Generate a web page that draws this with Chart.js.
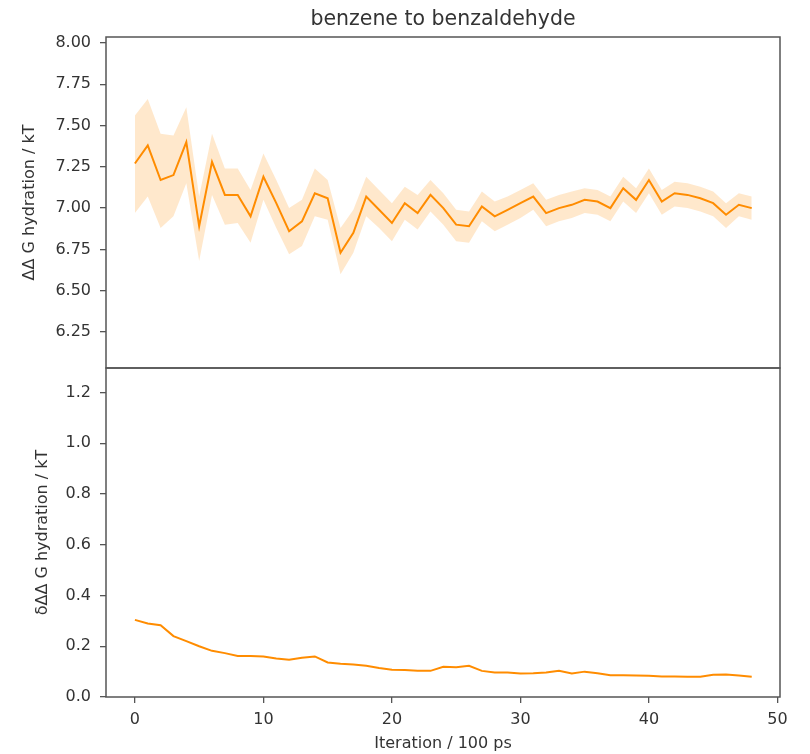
<!DOCTYPE html>
<html>
<head>
<meta charset="utf-8">
<script src="https://cdn.jsdelivr.net/npm/chart.js@4/dist/chart.umd.min.js"></script>
<style>
  html, body { margin: 0; padding: 0; background: #ffffff; }
  #wrap { position: relative; width: 810px; height: 754px; }
  #wrap canvas { position: absolute; left: 0; top: 0; }
</style>
</head>
<body>
<div id="wrap">
  <canvas id="freeEnergy" width="810" height="754"></canvas>
  <canvas id="stdError" width="810" height="754"></canvas>
</div>
<script>
// Iteration index (units of 100 ps)
const iterations = [0, 1, 2, 3, 4, 5, 6, 7, 8, 9, 10, 11, 12, 13, 14, 15, 16, 17, 18, 19,
  20, 21, 22, 23, 24, 25, 26, 27, 28, 29, 30, 31, 32, 33, 34, 35, 36, 37, 38, 39,
  40, 41, 42, 43, 44, 45, 46, 47, 48];

// Relative hydration free energy estimate (kT)
const deltaG = [7.27, 7.38, 7.17, 7.20, 7.40, 6.89, 7.28, 7.08, 7.08, 6.95,
  7.19, 7.03, 6.86, 6.92, 7.09, 7.06, 6.73, 6.85, 7.07, 6.99,
  6.91, 7.03, 6.97, 7.08, 7.00, 6.90, 6.89, 7.01, 6.95, 6.99,
  7.03, 7.07, 6.97, 7.00, 7.02, 7.05, 7.04, 7.00, 7.12, 7.05,
  7.17, 7.04, 7.09, 7.08, 7.06, 7.03, 6.96, 7.02, 7.00];

// Upper / lower edge of the uncertainty band (kT)
const deltaGUpper = [7.56, 7.66, 7.45, 7.44, 7.61, 7.07, 7.45, 7.24, 7.24, 7.11,
  7.33, 7.17, 7.00, 7.05, 7.24, 7.17, 6.88, 6.99, 7.19, 7.11,
  7.03, 7.13, 7.08, 7.17, 7.09, 6.99, 6.98, 7.10, 7.04, 7.07,
  7.11, 7.15, 7.05, 7.08, 7.10, 7.12, 7.11, 7.07, 7.19, 7.12,
  7.24, 7.11, 7.16, 7.15, 7.13, 7.10, 7.03, 7.09, 7.07];
const deltaGLower = [6.97, 7.07, 6.88, 6.95, 7.15, 6.68, 7.08, 6.90, 6.91, 6.79,
  7.05, 6.88, 6.72, 6.77, 6.95, 6.93, 6.60, 6.73, 6.95, 6.88,
  6.80, 6.93, 6.87, 6.98, 6.90, 6.80, 6.79, 6.92, 6.86, 6.90,
  6.94, 6.99, 6.89, 6.92, 6.94, 6.97, 6.96, 6.92, 7.04, 6.97,
  7.09, 6.96, 7.01, 7.00, 6.98, 6.95, 6.88, 6.95, 6.93];

// Statistical uncertainty of the estimate (kT)
const deltaGError = [0.304, 0.290, 0.283, 0.240, 0.220, 0.200, 0.182, 0.173, 0.162, 0.162,
  0.160, 0.152, 0.147, 0.155, 0.160, 0.136, 0.131, 0.128, 0.123, 0.114,
  0.107, 0.106, 0.103, 0.103, 0.119, 0.117, 0.123, 0.103, 0.097, 0.097,
  0.093, 0.094, 0.097, 0.103, 0.093, 0.100, 0.094, 0.086, 0.086, 0.085,
  0.084, 0.081, 0.081, 0.080, 0.080, 0.088, 0.089, 0.085, 0.080];

// Tick positions
const xTicks = [0, 10, 20, 30, 40, 50];
const yTicksTop = [6.25, 6.50, 6.75, 7.00, 7.25, 7.50, 7.75, 8.00];
const yTicksBottom = [0.0, 0.2, 0.4, 0.6, 0.8, 1.0, 1.2];

const LINE = '#ff8c00';
const BAND = 'rgba(255, 140, 0, 0.2)';
const AXIS = '#555555';
const TEXT = '#333333';
const FONT = 'DejaVu Sans';

Chart.defaults.font.family = FONT;
Chart.defaults.font.size = 16;
Chart.defaults.color = TEXT;

const pts = (ys) => iterations.map((x, i) => ({ x: x, y: ys[i] }));
const fixedTicks = (vals) => (scale) => { scale.ticks = vals.map(v => ({ value: v })); };

// Box frame around each plotting area
const framePlugin = {
  id: 'frame',
  afterDraw(chart) {
    const a = chart.chartArea;
    const ctx = chart.ctx;
    ctx.save();
    ctx.strokeStyle = AXIS;
    ctx.lineWidth = 1.5;
    ctx.strokeRect(a.left, a.top, a.right - a.left, a.bottom - a.top);
    ctx.restore();
  }
};

const xScale = (show) => ({
  type: 'linear',
  min: -2.25,
  max: 50.2,
  display: show,
  afterBuildTicks: fixedTicks(xTicks),
  afterFit: (s) => { if (show) s.height = 57; },
  border: { display: false },
  grid: { display: true, drawOnChartArea: false, drawTicks: true, tickLength: 6, color: AXIS, lineWidth: 1.3 },
  ticks: { padding: 7, font: { size: 16 }, color: TEXT, maxRotation: 0, callback: (v) => String(v) },
  title: { display: show, text: 'Iteration / 100 ps', font: { size: 16 }, color: TEXT, padding: { top: 0, bottom: 1 } }
});

const yScale = (min, max, ticks, digits, label, titlePad) => ({
  type: 'linear',
  min: min,
  max: max,
  afterBuildTicks: fixedTicks(ticks),
  afterFit: (s) => { s.width = 106; },
  border: { display: false },
  grid: { display: true, drawOnChartArea: false, drawTicks: true, tickLength: 6, color: AXIS, lineWidth: 1.3 },
  ticks: { padding: 9, font: { size: 16 }, color: TEXT, callback: (v) => Number(v).toFixed(digits) },
  title: { display: true, text: label, font: { size: 16 }, color: TEXT, padding: { top: titlePad, bottom: 0 } }
});

// Upper panel: free energy estimate with its uncertainty band
new Chart(document.getElementById('freeEnergy'), {
  type: 'line',
  data: {
    datasets: [
      { label: 'ΔΔG', data: pts(deltaG), borderColor: LINE, borderWidth: 2, pointRadius: 0, tension: 0, fill: false },
      { label: 'upper', data: pts(deltaGUpper), borderColor: 'transparent', borderWidth: 0, pointRadius: 0, tension: 0, fill: '+1', backgroundColor: BAND },
      { label: 'lower', data: pts(deltaGLower), borderColor: 'transparent', borderWidth: 0, pointRadius: 0, tension: 0, fill: false }
    ]
  },
  options: {
    responsive: false,
    animation: false,
    devicePixelRatio: 1,
    layout: { padding: { left: 0, right: 30, top: 0, bottom: 386 } },
    plugins: {
      legend: { display: false },
      tooltip: { enabled: false },
      title: {
        display: true,
        text: 'benzene to benzaldehyde',
        fullSize: false,
        color: TEXT,
        font: { family: FONT, size: 20.5, weight: 'normal' },
        padding: { top: 7.7, bottom: 4.7 }
      }
    },
    scales: {
      x: xScale(false),
      y: yScale(6.032, 8.036, yTicksTop, 2, 'ΔΔ G hydration / kT', 20.4)
    }
  },
  plugins: [framePlugin]
});

// Lower panel: uncertainty of the estimate
new Chart(document.getElementById('stdError'), {
  type: 'line',
  data: {
    datasets: [
      { label: 'δΔΔG', data: pts(deltaGError), borderColor: LINE, borderWidth: 2, pointRadius: 0, tension: 0, fill: false }
    ]
  },
  options: {
    responsive: false,
    animation: false,
    devicePixelRatio: 1,
    layout: { padding: { left: 0, right: 30, top: 368, bottom: 0 } },
    plugins: {
      legend: { display: false },
      tooltip: { enabled: false },
      title: { display: false }
    },
    scales: {
      x: xScale(true),
      y: yScale(0, 1.297, yTicksBottom, 1, 'δΔΔ G hydration / kT', 33.4)
    }
  },
  plugins: [framePlugin]
});
</script>
</body>
</html>
